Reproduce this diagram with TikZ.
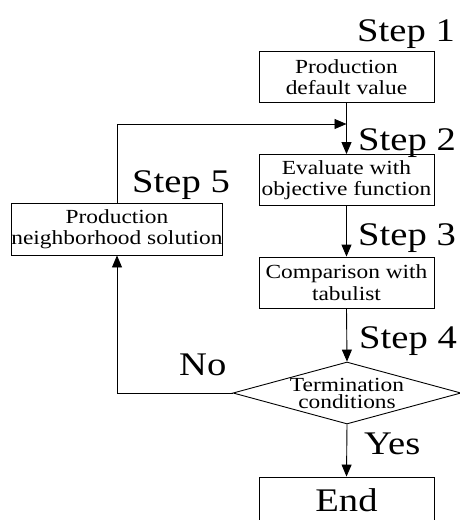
\documentclass[tikz,border=0pt]{standalone}
\usepackage{fontspec}
\setmainfont{Liberation Serif}[FakeStretch=1.17]
\usetikzlibrary{arrows.meta,shapes.geometric}
\tikzset{
  flow/.style={line width=0.9pt, draw=black},
  arr/.style={flow, -{Triangle[length=12pt,width=10pt]}},
  procbox/.style={draw=black, line width=0.9pt, rectangle, minimum width=175pt, minimum height=51pt, inner sep=0pt, align=center, font=\fontsize{20}{21.5}\selectfont},
  decision/.style={draw=black, line width=0.9pt, diamond, minimum width=228pt, minimum height=62pt, inner xsep=-45pt, inner ysep=-13pt, align=center, font=\fontsize{20}{17}\selectfont},
  biglabel/.style={inner sep=0pt, anchor=base west, font=\fontsize{33}{36}\selectfont}
}
\begin{document}
\begin{tikzpicture}[x=1pt,y=-1pt]
\useasboundingbox (0,0) rectangle (460,520);
\fill[white] (0,0) rectangle (460,520);
\clip (0,0) rectangle (460,520);

\node[procbox] (b1) at (346.5,77) {Production\\default value};
\node[procbox] (b2) at (346.5,180) {Evaluate with\\objective function};
\node[procbox] (b3) at (346.5,282.5) {Comparison with\\tabulist};
\node[decision] (dia) at (347,393) {Termination\\conditions};
\node[procbox, minimum width=210pt, minimum height=52pt] (b5) at (117,229) {Production\\neighborhood solution};
\node[procbox, minimum height=46pt, font=\fontsize{33}{36}\selectfont] (end) at (346.5,500) {End};
\coordinate (join) at (346.5,124);

\draw[arr] (b1.south) -- (b2.north);
\draw[arr] (b2.south) -- (b3.north);
\draw[arr] (b3.south) -- (dia.north);
\draw[arr] (dia.south) -- (end.north);
\draw[arr] (dia.west) -| (b5.south);
\draw[arr] (b5.north) |- (join);

\node[biglabel] (s1) at (357,41) {Step 1};
\node[biglabel] (s2) at (358,150) {Step 2};
\node[biglabel] (s3) at (358,245) {Step 3};
\node[biglabel] (s4) at (359,348) {Step 4};
\node[biglabel] (s5) at (132,192) {Step 5};
\node[biglabel] (no) at (179,375) {No};
\node[biglabel] (yes) at (364,454) {Yes};
\end{tikzpicture}
\end{document}
